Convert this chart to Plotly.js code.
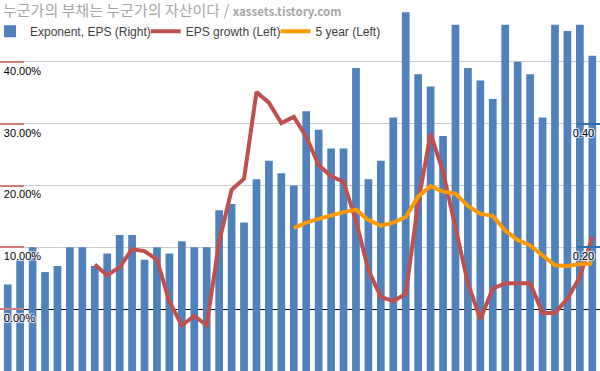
<!DOCTYPE html>
<html>
<head>
<meta charset="utf-8">
<script src="https://cdn.plot.ly/plotly-3.0.1.min.js"></script>
<style>
  html, body { margin: 0; padding: 0; background: #fff; }
  #chart { width: 600px; height: 371px; }
</style>
</head>
<body>
<div id="chart"></div>
<script>
// Period index (no x labels in the original chart)
const periods = [0,1,2,3,4,5,6,7,8,9,10,11,12,13,14,15,16,17,18,19,20,21,22,23,
                 24,25,26,27,28,29,30,31,32,33,34,35,36,37,38,39,40,41,42,43,44,45,46,47];

// Exponent, EPS (Right axis)
const epsExponent = [0.14,0.18,0.20,0.16,0.17,0.20,0.20,0.17,0.19,0.22,0.22,0.18,
                     0.20,0.19,0.21,0.20,0.20,0.26,0.27,0.24,0.31,0.34,0.32,0.30,
                     0.42,0.39,0.36,0.36,0.49,0.31,0.34,0.41,0.58,0.48,0.46,0.38,
                     0.56,0.49,0.47,0.44,0.56,0.50,0.48,0.41,0.56,0.55,0.56,0.51];

// EPS growth, % (Left axis)
const epsGrowth = [null,null,null,null,null,null,null,7.2,5.5,6.8,9.7,9.4,
                   8.0,1.2,-2.6,-1.1,-2.6,10.9,19.3,21.1,35.1,33.4,30.1,31.1,
                   27.9,23.3,21.5,20.6,14.3,6.3,2.0,1.3,2.5,17.2,28.4,22.2,
                   13.5,4.2,-1.6,3.3,4.2,4.2,4.2,-0.6,-0.6,1.7,5.2,11.7];

// 5 year, % (Left axis)
const fiveYear = [null,null,null,null,null,null,null,null,null,null,null,null,
                  null,null,null,null,null,null,null,null,null,null,null,13.1,
                  14.0,14.6,15.2,15.7,16.1,14.4,13.5,14.0,14.9,18.2,19.9,19.0,
                  18.7,16.7,15.4,15.1,12.7,11.2,10.3,8.7,7.1,7.0,7.3,7.4];

// Tick labels
const leftTickVals  = [-10, 0, 10, 20, 30, 40, 50];
const leftTickText  = ['', '0.00%', '10.00%', '20.00%', '30.00%', '40.00%', ''];
const rightTickVals = [0, 0.2, 0.4, 0.6];
const rightTickText = ['', '0.20', '0.40', ''];

const seriesNames = ['Exponent, EPS (Right)', 'EPS growth (Left)', '5 year (Left)'];
const chartTitle = '누군가의 부채는 누군가의 자산이다 / ' +
  '<span style="font-size:11.5px"><b>xassets.tistory.com</b></span>';

const halo = '1px 1px 1px #fff, -1px -1px 1px #fff, 1px -1px 1px #fff, -1px 1px 1px #fff';

const traces = [
  {
    type: 'bar', x: periods, y: epsExponent, yaxis: 'y', name: seriesNames[0],
    marker: { color: '#4f81bd' }, width: 0.62
  },
  {
    type: 'scatter', mode: 'lines', x: periods, y: epsGrowth, yaxis: 'y2', name: seriesNames[1],
    line: { color: '#c0504d', width: 4 }, connectgaps: false
  },
  {
    type: 'scatter', mode: 'lines', x: periods, y: fiveYear, yaxis: 'y2', name: seriesNames[2],
    line: { color: '#ff9900', width: 4 }, connectgaps: false
  }
];

const layout = {
  width: 600, height: 371,
  margin: { l: 0, r: 0, t: 0, b: 0, pad: 0 },
  paper_bgcolor: '#ffffff', plot_bgcolor: '#ffffff',
  title: {
    text: chartTitle,
    x: 0.005, xanchor: 'left', xref: 'paper',
    y: 0.97, yanchor: 'middle', yref: 'container',
    font: { family: 'Noto Sans CJK KR, Noto Sans, sans-serif', size: 15, color: '#a6a6a6' }
  },
  showlegend: true,
  legend: {
    orientation: 'h', x: 0, xanchor: 'left', y: 0.955, yanchor: 'top',
    bgcolor: 'rgba(0,0,0,0)', itemwidth: 30, traceorder: 'normal', indentation: -10,
    font: { family: 'Liberation Sans, Arial, sans-serif', size: 12, color: '#404040' }
  },
  xaxis: {
    range: [-0.62, 47.62], visible: false, showgrid: false, zeroline: false
  },
  yaxis: {
    side: 'right', range: [0, 0.6],
    tickvals: rightTickVals, ticktext: rightTickText,
    ticks: 'inside', ticklen: 23, tickwidth: 2, tickcolor: '#2f6db5',
    ticklabelposition: 'inside', ticklabelshift: 9, ticklabelstandoff: -18,
    showgrid: false, zeroline: false, showline: false,
    tickfont: { family: 'Liberation Sans, Arial, sans-serif', size: 11, color: '#000', shadow: halo }
  },
  yaxis2: {
    overlaying: 'y', side: 'left', range: [-10, 50],
    tickvals: leftTickVals, ticktext: leftTickText,
    ticks: 'inside', ticklen: 24, tickwidth: 2, tickcolor: '#d27b79',
    ticklabelposition: 'inside', ticklabelshift: 9, ticklabelstandoff: -21,
    showgrid: true, gridcolor: '#cccccc', gridwidth: 1,
    zeroline: true, zerolinecolor: '#000000', zerolinewidth: 1,
    showline: false,
    tickfont: { family: 'Liberation Sans, Arial, sans-serif', size: 11, color: '#000', shadow: halo }
  }
};

Plotly.newPlot('chart', traces, layout, { staticPlot: true, displayModeBar: false });
</script>
</body>
</html>
